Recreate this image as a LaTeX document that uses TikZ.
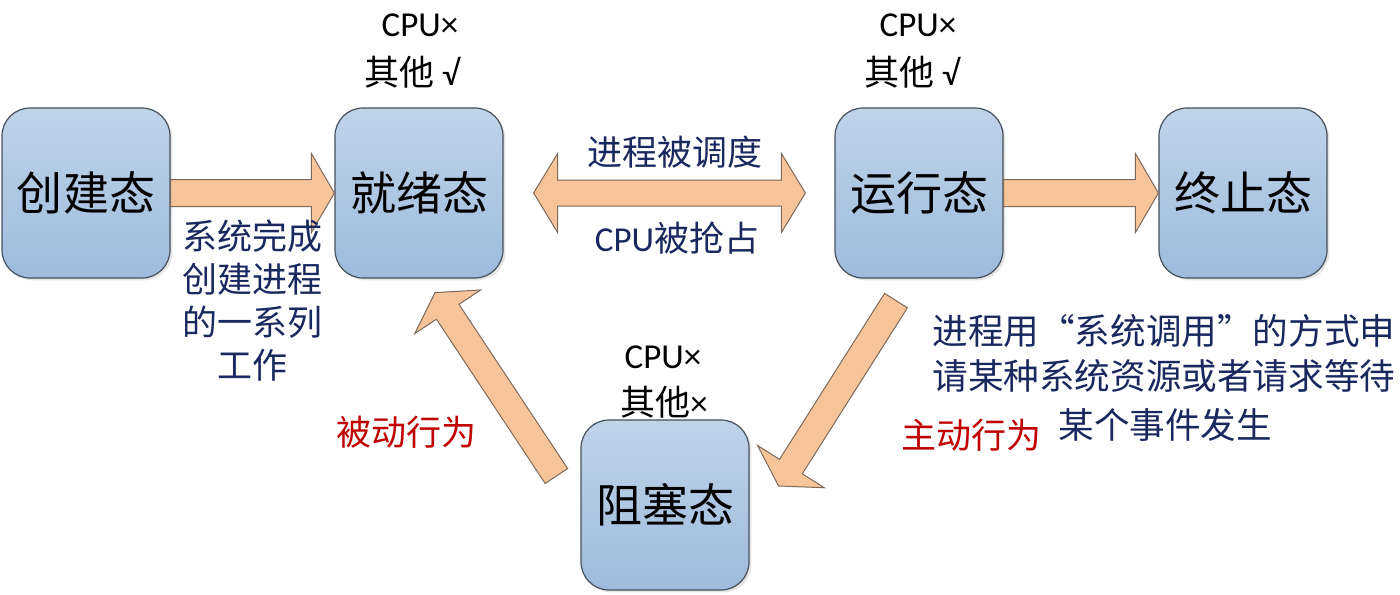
\documentclass[tikz,border=0pt]{standalone}
\usepackage{fontspec}
\setmainfont{Noto Sans CJK SC}
\newfontfamily\lat{Carlito}
\usetikzlibrary{calc,shadows}
\definecolor{boxtop}{RGB}{192,211,233}
\definecolor{boxbot}{RGB}{158,187,220}
\definecolor{boxline}{RGB}{70,80,92}
\definecolor{arrfill}{RGB}{248,197,155}
\definecolor{arrline}{RGB}{125,105,90}
\definecolor{navy}{RGB}{25,40,95}
\definecolor{dred}{RGB}{192,0,0}
\tikzset{
  statebox/.style={draw=boxline, line width=0.6pt, rounded corners=14pt,
    top color=boxtop, bottom color=boxbot, minimum width=84pt, minimum height=85pt,
    inner sep=0pt, font=\fontsize{23}{28}\selectfont,
    drop shadow={opacity=0.2, shadow xshift=1.2pt, shadow yshift=-1.2pt}},
  arrowbody/.style={fill=arrfill, draw=arrline, line width=0.5pt, line join=miter},
  translabel/.style={text=navy, font=\fontsize{17.5}{21.5}\selectfont, inner sep=0pt},
  redlabel/.style={text=dred, font=\fontsize{17.5}{21.5}\selectfont, inner sep=0pt},
  cpulabel/.style={text=black, font=\fontsize{17.5}{21.5}\selectfont, inner sep=0pt, align=center}
}
% #1 start (shaft end), #2 tip
\newcommand\blockarr[2]{%
  \path ($(#2)!11.5pt!(#1)$) coordinate (hb);
  \filldraw[arrowbody] ($(#1)!6.75pt!90:(#2)$) -- ($(hb)!6.75pt!90:(#2)$)
    -- ($(hb)!19.75pt!90:(#2)$) -- (#2) -- ($(hb)!19.75pt!-90:(#2)$)
    -- ($(hb)!6.75pt!-90:(#2)$) -- ($(#1)!6.75pt!-90:(#2)$) -- cycle;
}
% #1 left tip, #2 right tip
\newcommand\doublearr[2]{%
  \path ($(#1)!12pt!(#2)$) coordinate (hbl);
  \path ($(#2)!12pt!(#1)$) coordinate (hbr);
  \filldraw[arrowbody] (#1) -- ($(hbl)!19.75pt!90:(#2)$) -- ($(hbl)!6.5pt!90:(#2)$)
    -- ($(hbr)!6.5pt!-90:(#1)$) -- ($(hbr)!19.75pt!-90:(#1)$) -- (#2)
    -- ($(hbr)!19.75pt!90:(#1)$) -- ($(hbr)!6.5pt!90:(#1)$)
    -- ($(hbl)!6.5pt!-90:(#2)$) -- ($(hbl)!19.75pt!-90:(#2)$) -- cycle;
}
\begin{document}
\begin{tikzpicture}[x=0.5pt, y=-0.5pt]
\useasboundingbox (0,0) rectangle (1400,594);
\fill[white] (0,0) rectangle (1400,594);

% state boxes
\node[statebox] (create) at (86,193) {创建态};
\node[statebox] (ready) at (419,193) {就绪态};
\node[statebox] (run) at (919,193) {运行态};
\node[statebox] (term) at (1243,193) {终止态};
\node[statebox] (block) at (665,505) {阻塞态};

% connector end points
\coordinate (c1s) at (create.east);
\coordinate (c1t) at (ready.west);
\coordinate (dl) at ($(ready.east)+(30,0)$);
\coordinate (dr) at ($(run.west)+(-29,0)$);
\coordinate (c3s) at (run.east);
\coordinate (c3t) at (term.west);
\coordinate (c4s) at ($(run.south)+(-23,22)$);
\coordinate (c4t) at ($(block.east)+(29,-19)$);
\coordinate (c5s) at ($(block.west)+(-24,-29)$);
\coordinate (c5t) at ($(ready.south)+(16,14)$);

\blockarr{c1s}{c1t}
\doublearr{dl}{dr}
\blockarr{c3s}{c3t}
\blockarr{c4s}{c4t}
\blockarr{c5s}{c5t}

% resource labels
\node[cpulabel] (cpu1) at (420,25) {{\lat CPU×}};
\node[cpulabel] (oth1) at (412,72) {其他 {\lat √}};
\node[cpulabel] (cpu2) at (918,25) {{\lat CPU×}};
\node[cpulabel] (oth2) at (912,72) {其他 {\lat √}};
\node[cpulabel] (cpu3) at (663,357) {{\lat CPU×}};
\node[cpulabel] (oth3) at (664,402) {其他{\lat ×}};

% transition labels
\node[translabel] (sched) at (675,152) {进程被调度};
\node[translabel] (preempt) at (677,238) {{\lat CPU}被抢占};
\node[translabel, align=center] (done) at (252,301) {系统完成\\创建进程\\的一系列\\工作};
\node[translabel, anchor=west, font=\fontsize{17.8}{21.5}\selectfont] (req1) at (932,331) {进程用\makebox[1em][r]{“}系统调用\makebox[1em][l]{”}的方式申};
\node[translabel, anchor=west, font=\fontsize{17.8}{21.5}\selectfont] (req2) at (932,376) {请某种系统资源或者请求等待};
\node[translabel, anchor=west, font=\fontsize{17.8}{21.5}\selectfont] (req3) at (1058,425) {某个事件发生};
\node[redlabel] (passive) at (406,432) {被动行为};
\node[redlabel] (active) at (971,435) {主动行为};
\end{tikzpicture}
\end{document}
